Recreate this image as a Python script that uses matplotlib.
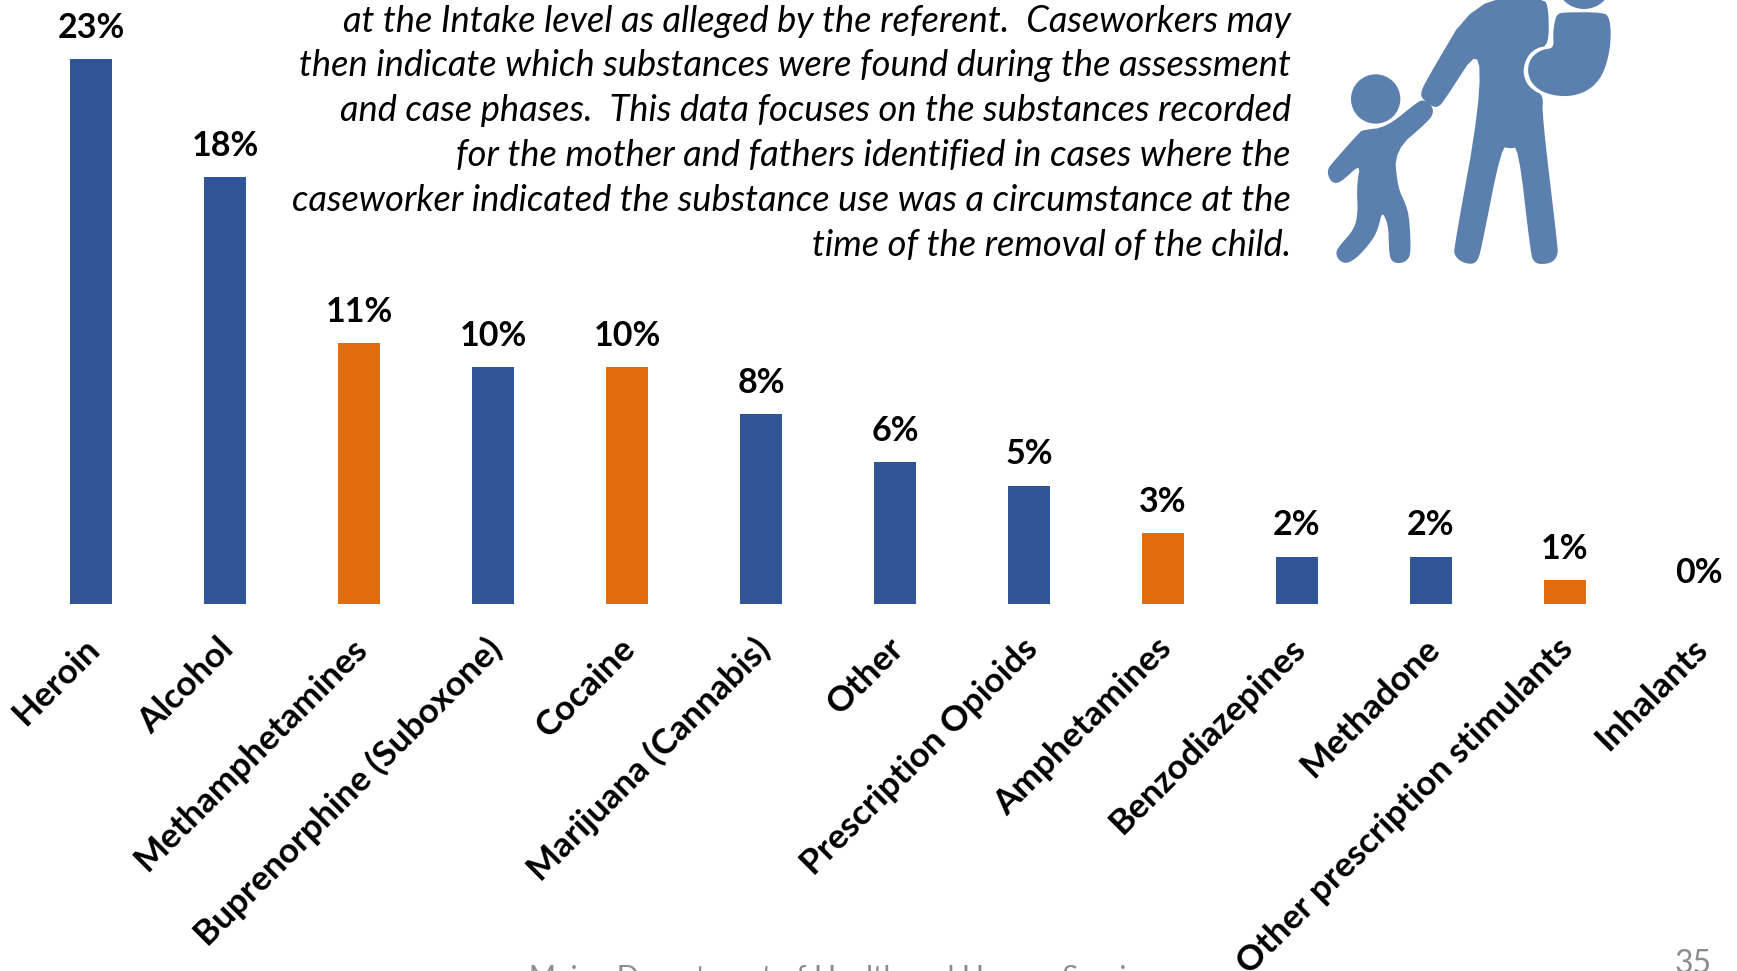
import matplotlib
matplotlib.use('Agg')
import matplotlib.pyplot as plt
from matplotlib.patches import Polygon, Circle
from matplotlib.transforms import ScaledTranslation

# share of substances recorded, percent
substances = ['Heroin', 'Alcohol', 'Methamphetamines', 'Buprenorphine (Suboxone)', 'Cocaine',
              'Marijuana (Cannabis)', 'Other', 'Prescription Opioids', 'Amphetamines',
              'Benzodiazepines', 'Methadone', 'Other prescription stimulants', 'Inhalants']
percents = [23, 18, 11, 10, 10, 8, 6, 5, 3, 2, 2, 1, 0]
stimulants = ['Methamphetamines', 'Cocaine', 'Amphetamines', 'Other prescription stimulants']

note_lines = [
    'at the Intake level as alleged by the referent.  Caseworkers may',
    'then indicate which substances were found during the assessment',
    'and case phases.  This data focuses on the substances recorded',
    'for the mother and fathers identified in cases where the',
    'caseworker indicated the substance use was a circumstance at the',
    'time of the removal of the child.',
]
footer = 'Maine Department of Health and Human Services'
page_number = '35'

BLUE = '#2F5597'
ORANGE = '#E36C0A'
ICON = '#5B80AE'
W, H = 1737, 971

# icon outlines
adult = [(585, 0), (790, -5), (803, 30), (803, 135), (770, 140), (740, 165), (725, 210), (735, 250),
         (760, 275), (787, 287), (783, 345), (830, 740), (830, 765), (815, 785), (785, 790), (765, 785),
         (755, 760), (718, 437), (690, 443), (662, 435), (600, 750), (590, 780), (575, 790), (545, 783),
         (527, 765), (525, 745), (603, 315), (600, 130), (490, 300), (475, 317), (460, 318), (430, 295),
         (425, 280), (440, 245)]
baby = [(850, 40), (970, 40), (985, 55), (990, 100), (985, 160), (965, 225), (930, 265), (880, 285),
        (830, 285), (785, 272), (755, 245), (745, 210), (755, 175), (785, 152), (825, 147), (822, 100),
        (828, 60), (835, 45)]
child = [(250, 393), (320, 385), (415, 308), (430, 303), (450, 315), (458, 335), (445, 360), (340, 450),
         (350, 563), (375, 615), (385, 655), (390, 755), (380, 780), (355, 788), (335, 780), (330, 750),
         (328, 670), (305, 628), (290, 690), (270, 725), (230, 770), (200, 788), (180, 780), (170, 760),
         (180, 740), (225, 690), (237, 640), (233, 560), (245, 485), (185, 540), (165, 548), (150, 535),
         (145, 510), (160, 490), (240, 400)]


def to_px(points):
    # corner cutting rounds the outline a little
    for _ in range(2):
        cut = []
        for (x0, y0), (x1, y1) in zip(points, points[1:] + points[:1]):
            cut.append((0.75 * x0 + 0.25 * x1, 0.75 * y0 + 0.25 * y1))
            cut.append((0.25 * x0 + 0.75 * x1, 0.25 * y0 + 0.75 * y1))
        points = cut
    return [(1280 + x / 3, y / 3) for x, y in points]


plt.rcParams['font.family'] = ['Lato', 'DejaVu Sans']
fig = plt.figure(figsize=(W / 100, H / 100), dpi=100, facecolor='white')

# bars
baseline = 604
unit = 23.7
ax = fig.add_axes([0, (H - baseline) / H, 1, baseline / H])
colors = [ORANGE if s in stimulants else BLUE for s in substances]
xs = list(range(len(substances)))
ax.bar(xs, percents, width=42 / 134, color=colors)
ax.set_xlim(-91 / 134, (W - 91) / 134)
ax.set_ylim(0, baseline / unit)
for x, p in zip(xs, percents):
    ax.annotate(f'{p}%', (x, p), xytext=(0, 11), textcoords='offset points', ha='center', va='bottom',
                fontsize=24.5, fontweight='bold', color='black')
ax.set_xticks(xs)
ax.set_xticklabels(substances, rotation=45, ha='right', va='top', rotation_mode='anchor',
                   fontsize=25.3, fontweight='bold')
ax.tick_params(axis='x', length=0, pad=18)
shift = ScaledTranslation(-8 / 100, -3 / 100, fig.dpi_scale_trans)
for label in ax.get_xticklabels():
    label.set_transform(label.get_transform() + shift)
ax.set_yticks([])
for spine in ax.spines.values():
    spine.set_visible(False)
ax.patch.set_alpha(0)

# overlay in pixel units for the note, icon and footer
top = fig.add_axes([0, 0, 1, 1])
top.set_xlim(0, W)
top.set_ylim(H, 0)
top.axis('off')
for i, line in enumerate(note_lines):
    top.text(1291, 21 + i * 44.9, line, ha='right', va='center', fontsize=26.1, style='italic', color='black')

top.add_patch(Polygon(to_px(adult), closed=True, fc=ICON, ec=ICON, lw=1.5, joinstyle='round'))
top.add_patch(Polygon(to_px(baby), closed=True, fc=ICON, ec=ICON, lw=1.5, joinstyle='round'))
top.add_patch(Polygon(to_px(child), closed=True, fc=ICON, ec=ICON, lw=1.5, joinstyle='round'))
top.add_patch(Circle((1280 + 287 / 3, 297 / 3), 74 / 3, fc=ICON, ec='none'))
top.add_patch(Circle((1280 + 912 / 3, -58 / 3), 85 / 3, fc=ICON, ec='none'))

top.text(849, 978, footer, ha='center', va='center', fontsize=21, color='#8C8C8C')
top.text(1693, 964, page_number, ha='center', va='center', fontsize=23, color='#8C8C8C')

fig.savefig('out.png', dpi=100)
